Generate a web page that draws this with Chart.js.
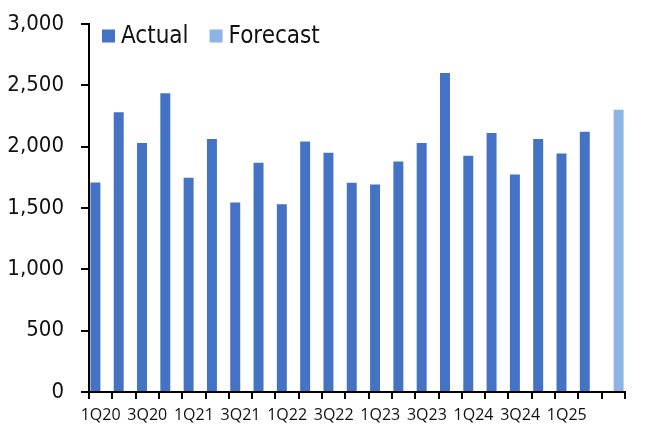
<!DOCTYPE html>
<html>
<head>
<meta charset="utf-8">
<script src="https://cdn.jsdelivr.net/npm/chart.js@4.4.1/dist/chart.umd.min.js"></script>
<style>
  html, body { margin: 0; padding: 0; background: #fff; }
  #wrap { width: 660px; height: 426px; }
</style>
</head>
<body>
<div id="wrap"><canvas id="c" width="660" height="426"></canvas></div>
<script>
// Quarterly volumes: reported quarters plus the one forecast quarter
const quarters = [
  '1Q20','2Q20','3Q20','4Q20',
  '1Q21','2Q21','3Q21','4Q21',
  '1Q22','2Q22','3Q22','4Q22',
  '1Q23','2Q23','3Q23','4Q23',
  '1Q24','2Q24','3Q24','4Q24',
  '1Q25','2Q25','3Q25'
];
const actual = [
  1708, 2280, 2030, 2435,
  1746, 2062, 1545, 1868,
  1530, 2043, 1950, 1705,
  1692, 1880, 2030, 2600,
  1926, 2111, 1774, 2062,
  1945, 2121, null
];
const forecast = [
  null, null, null, null,
  null, null, null, null,
  null, null, null, null,
  null, null, null, null,
  null, null, null, null,
  null, null, 2300
];
// Every other quarter is labelled on the category axis
const tickLabels = [
  '1Q20','','3Q20','',
  '1Q21','','3Q21','',
  '1Q22','','3Q22','',
  '1Q23','','3Q23','',
  '1Q24','','3Q24','',
  '1Q25','',''
];
const yTicks = { min: 0, max: 3000, step: 500 };

const mainFont = 'Tahoma, "DejaVu Sans Condensed", "DejaVu Sans", sans-serif';
const axisFont = '"Open Sans", "Noto Sans", sans-serif';

const PAD = { left: 0, right: 35, top: 24, bottom: 0 };
const AREA = { left: 89, bottom: 392 };

// Legend drawn inside the top-left of the plot area, items in one row
const inlineLegend = {
  id: 'inlineLegend',
  afterDraw(chart) {
    const ctx = chart.ctx;
    const area = chart.chartArea;
    const box = 13, gap = 6, itemGap = 21;
    let x = area.left + 13;
    const cy = area.top + 12;
    ctx.save();
    ctx.font = '24px ' + mainFont;
    ctx.textBaseline = 'middle';
    ctx.textAlign = 'left';
    chart.data.datasets.forEach((ds) => {
      ctx.fillStyle = ds.backgroundColor;
      ctx.fillRect(x, cy - box / 2, box, box);
      x += box + gap;
      ctx.fillStyle = '#111';
      ctx.fillText(ds.label, x, cy + 1);
      x += ctx.measureText(ds.label).width + itemGap;
    });
    ctx.restore();
  }
};

new Chart(document.getElementById('c'), {
  type: 'bar',
  data: {
    labels: quarters,
    datasets: [
      {
        label: 'Actual',
        data: actual,
        backgroundColor: '#4472C4',
        borderWidth: 0,
        categoryPercentage: 0.9,
        barPercentage: 0.95
      },
      {
        label: 'Forecast',
        data: forecast,
        backgroundColor: '#8EB4E3',
        borderWidth: 0,
        categoryPercentage: 0.9,
        barPercentage: 0.95
      }
    ]
  },
  plugins: [inlineLegend],
  options: {
    responsive: false,
    animation: false,
    devicePixelRatio: 1,
    layout: { padding: PAD },
    plugins: {
      tooltip: { enabled: false },
      legend: { display: false }
    },
    scales: {
      x: {
        grid: {
          display: true,
          drawOnChartArea: false,
          drawTicks: true,
          tickLength: 7,
          color: '#000',
          lineWidth: 2,
          offset: true
        },
        border: { display: true, color: '#000', width: 2 },
        ticks: {
          autoSkip: false,
          maxRotation: 0,
          minRotation: 0,
          padding: 7,
          color: '#111',
          font: { family: axisFont, size: 16 },
          callback: (v, i) => tickLabels[i]
        },
        afterFit: (s) => { s.height = 426 - PAD.bottom - AREA.bottom; }
      },
      y: {
        min: yTicks.min,
        max: yTicks.max,
        grid: {
          display: true,
          drawOnChartArea: false,
          drawTicks: true,
          tickLength: 8,
          color: '#000',
          lineWidth: 2
        },
        border: { display: true, color: '#000', width: 2 },
        ticks: {
          stepSize: yTicks.step,
          padding: 17,
          color: '#111',
          font: { family: mainFont, size: 22 },
          callback: (v) => v.toLocaleString('en-US')
        },
        afterFit: (s) => {
          s.width = AREA.left - PAD.left;
          // let the layout padding alone set the plot's top edge
          s.paddingTop = 0;
          s.paddingBottom = 0;
        }
      }
    }
  }
});
</script>
</body>
</html>
